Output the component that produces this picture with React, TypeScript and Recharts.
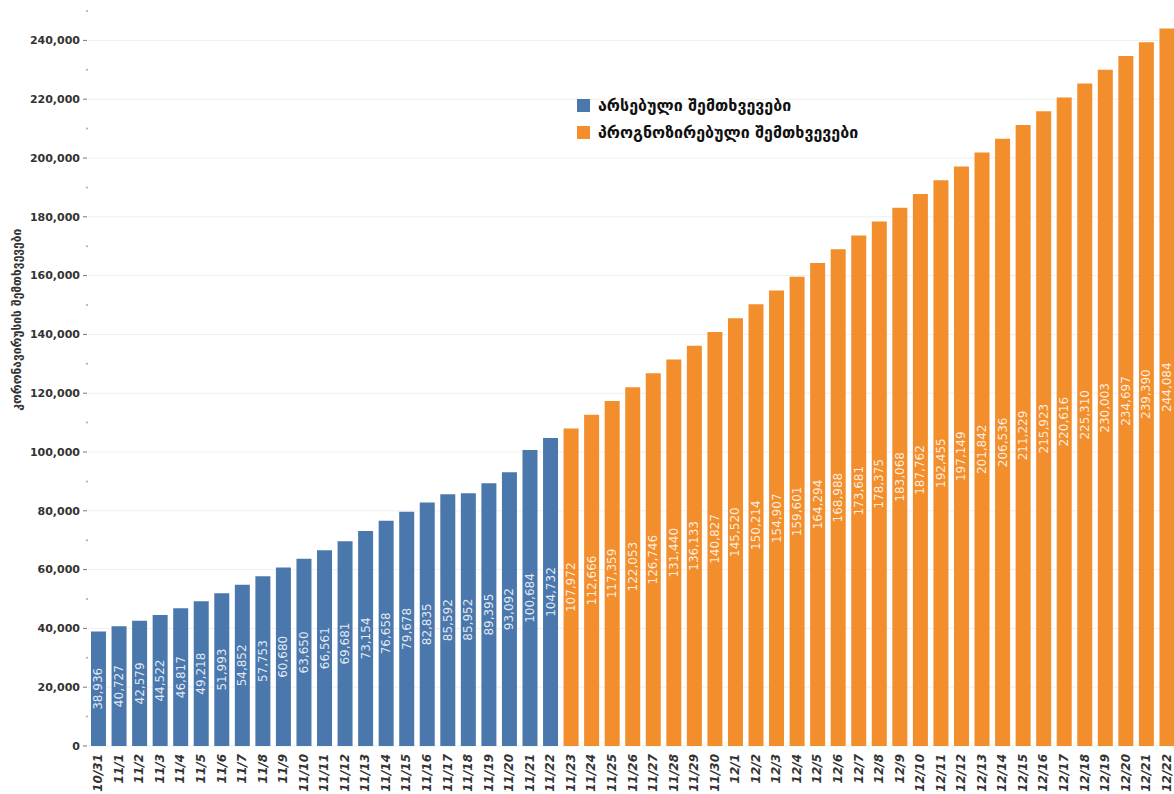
import {
  BarChart,
  Bar,
  XAxis,
  YAxis,
  CartesianGrid,
  LabelList,
  Legend,
  Label,
} from "recharts";

const categories = [
  "10/31", "11/1", "11/2", "11/3", "11/4", "11/5", "11/6", "11/7", "11/8", "11/9",
  "11/10", "11/11", "11/12", "11/13", "11/14", "11/15", "11/16", "11/17", "11/18", "11/19",
  "11/20", "11/21", "11/22", "11/23", "11/24", "11/25", "11/26", "11/27", "11/28", "11/29",
  "11/30", "12/1", "12/2", "12/3", "12/4", "12/5", "12/6", "12/7", "12/8", "12/9",
  "12/10", "12/11", "12/12", "12/13", "12/14", "12/15", "12/16", "12/17", "12/18", "12/19",
  "12/20", "12/21", "12/22",
];

// 10/31 - 11/22
const actualCases = [
  38936, 40727, 42579, 44522, 46817, 49218, 51993, 54852, 57753, 60680,
  63650, 66561, 69681, 73154, 76658, 79678, 82835, 85592, 85952, 89395,
  93092, 100684, 104732,
];

// 11/23 - 12/22
const forecastCases = [
  107972, 112666, 117359, 122053, 126746, 131440, 136133, 140827, 145520, 150214,
  154907, 159601, 164294, 168988, 173681, 178375, 183068, 187762, 192455, 197149,
  201842, 206536, 211229, 215923, 220616, 225310, 230003, 234697, 239390, 244084,
];

const majorTicks = [
  0, 20000, 40000, 60000, 80000, 100000, 120000, 140000, 160000, 180000, 200000,
  220000, 240000,
];

const allTicks = [
  0, 10000, 20000, 30000, 40000, 50000, 60000, 70000, 80000, 90000, 100000,
  110000, 120000, 130000, 140000, 150000, 160000, 170000, 180000, 190000, 200000,
  210000, 220000, 230000, 240000, 250000,
];

const ACTUAL_NAME = "არსებული შემთხვევები";
const FORECAST_NAME = "პროგნოზირებული შემთხვევები";
const Y_TITLE = "კორონავირუსის შემთხვევები";

const BLUE = "#4a78ad";
const ORANGE = "#f28e2b";
const FONT = "'DejaVu Sans', sans-serif";

const data = categories.map((name, i) => ({
  name,
  actual: i < actualCases.length ? actualCases[i] : null,
  forecast: i >= actualCases.length ? forecastCases[i - actualCases.length] : null,
}));

function DateTick({ x, y, payload }: any) {
  return (
    <text
      transform={`translate(${x + 4}, ${y + 6}) rotate(-90)`}
      textAnchor="end"
      fontSize={12}
      fontStyle="italic"
      fontWeight="bold"
      fill="#333"
      fontFamily={FONT}
    >
      {payload.value}
    </text>
  );
}

function CountTick({ x, y, payload }: any) {
  const v = payload.value;
  if (!majorTicks.includes(v)) {
    return <circle cx={x - 1} cy={y} r={1} fill="#aaa" />;
  }
  return (
    <g>
      <text
        x={x - 8}
        y={y}
        dy="0.35em"
        textAnchor="end"
        fontSize={11}
        fontWeight="bold"
        fill="#333"
        fontFamily={FONT}
      >
        {v.toLocaleString("en-US")}
      </text>
      <line x1={x - 5} x2={x - 1} y1={y} y2={y} stroke="#777" />
    </g>
  );
}

function ValueLabel(props: any) {
  const { x, y, width, height, value } = props;
  if (value == null) return null;
  const cx = x + width / 2;
  const cy = y + height / 2;
  return (
    <text
      x={cx}
      y={cy}
      transform={`rotate(-90, ${cx}, ${cy})`}
      textAnchor="middle"
      dominantBaseline="central"
      fill="#fff"
      fillOpacity={0.85}
      fontSize={12}
      fontFamily={FONT}
    >
      {Number(value).toLocaleString("en-US")}
    </text>
  );
}

function LegendBox() {
  const items = [
    { name: ACTUAL_NAME, color: BLUE },
    { name: FORECAST_NAME, color: ORANGE },
  ];
  return (
    <div style={{ fontFamily: FONT }}>
      {items.map((it) => (
        <div
          key={it.name}
          style={{ display: "flex", alignItems: "center", height: 27 }}
        >
          <span
            style={{
              width: 13,
              height: 13,
              background: it.color,
              marginRight: 8,
              display: "inline-block",
            }}
          />
          <span style={{ fontSize: 16, fontWeight: "bold", color: "#111" }}>
            {it.name}
          </span>
        </div>
      ))}
    </div>
  );
}

export default function App() {
  return (
    <div
      style={{
        position: "absolute",
        left: 0,
        top: 0,
        width: 1174,
        height: 794,
        overflow: "hidden",
        background: "#fff",
      }}
    >
      <BarChart
        width={1180}
        height={794}
        data={data}
        margin={{ top: 11, right: 3, left: 0, bottom: 0 }}
        barSize={15}
      >
        <CartesianGrid
          vertical={false}
          horizontalValues={majorTicks}
          stroke="#efefef"
        />
        <XAxis
          dataKey="name"
          interval={0}
          tick={<DateTick />}
          tickLine={false}
          axisLine={false}
          height={48}
          tickSize={0}
        />
        <YAxis
          type="number"
          domain={[0, 250000]}
          ticks={allTicks}
          interval={0}
          width={88}
          tick={<CountTick />}
          tickLine={false}
          axisLine={false}
          tickSize={0}
          tickMargin={0}
        >
          <Label
            content={(p: any) => {
              const vb = p.viewBox || { x: 0, y: 11, width: 88, height: 735 };
              const cx = vb.x + 17;
              const cy = vb.y + vb.height * 0.42;
              return (
                <text
                  x={cx}
                  y={cy}
                  transform={`rotate(-90, ${cx}, ${cy})`}
                  textAnchor="middle"
                  dominantBaseline="central"
                  fontSize={12}
                  fontWeight="bold"
                  fill="#333"
                  fontFamily={FONT}
                >
                  {Y_TITLE}
                </text>
              );
            }}
          />
        </YAxis>
        <Legend
          layout="vertical"
          align="center"
          verticalAlign="middle"
          content={() => <LegendBox />}
          wrapperStyle={{ left: 577, top: 92, width: "auto" }}
        />
        <Bar
          dataKey="actual"
          name={ACTUAL_NAME}
          stackId="cases"
          fill={BLUE}
          isAnimationActive={false}
        >
          <LabelList dataKey="actual" content={<ValueLabel />} />
        </Bar>
        <Bar
          dataKey="forecast"
          name={FORECAST_NAME}
          stackId="cases"
          fill={ORANGE}
          isAnimationActive={false}
        >
          <LabelList dataKey="forecast" content={<ValueLabel />} />
        </Bar>
      </BarChart>
    </div>
  );
}
